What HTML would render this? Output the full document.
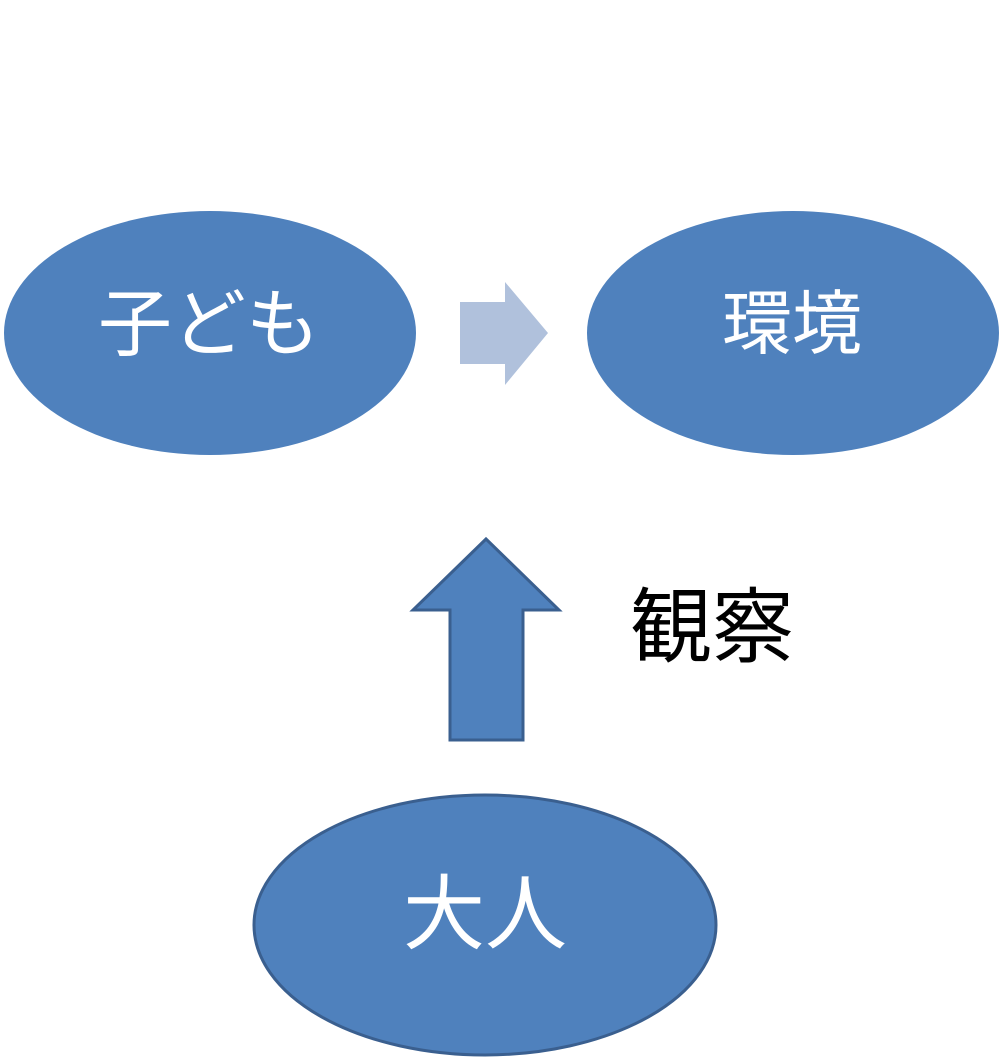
<!DOCTYPE html>
<html><head><meta charset="utf-8"><style>html,body{margin:0;padding:0;background:#fff}svg{display:block}text{font-family:"Liberation Sans","Noto Sans CJK JP",sans-serif}</style></head>
<body>
<svg width="1003" height="1058" viewBox="0 0 1003 1058" xmlns="http://www.w3.org/2000/svg">
<rect width="1003" height="1058" fill="#fff"/>
<ellipse cx="210" cy="333" rx="206" ry="122" fill="#4f81bd"/>
<ellipse cx="793" cy="333" rx="206" ry="122" fill="#4f81bd"/>
<ellipse cx="485" cy="925" rx="231" ry="130" fill="#4f81bd" stroke="#3a5f8f" stroke-width="3"/>
<polygon points="460,302 505,302 505,282 548,333 505,385 505,364 460,364" fill="#b0c1dc"/>
<polygon points="486,539 559,610 523,610 523,740 450,740 450,610 413,610" fill="#4f81bd" stroke="#3a5f8f" stroke-width="3" stroke-linejoin="miter"/>
<text x="209" y="324" font-size="74" fill="#fff" text-anchor="middle" dominant-baseline="central">子ども</text>
<text x="792" y="324" font-size="70" fill="#fff" text-anchor="middle" dominant-baseline="central">環境</text>
<text x="485" y="915" font-size="82" fill="#fff" text-anchor="middle" dominant-baseline="central">大人</text>
<text x="712" y="628" font-size="82" fill="#000" text-anchor="middle" dominant-baseline="central">観察</text>
</svg>
</body></html>
